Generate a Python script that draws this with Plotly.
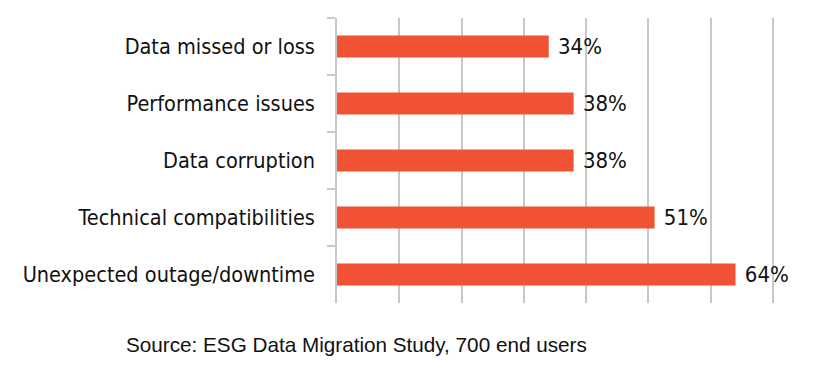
import plotly.graph_objects as go

categories = ["Data missed or loss", "Performance issues", "Data corruption",
              "Technical compatibilities", "Unexpected outage/downtime"]
values = [34, 38, 38, 51, 64]
source_text = "Source: ESG Data Migration Study, 700 end users"

BAR = "#F05233"
GRID = "#c8c8c8"
TXT = "#111111"
NARROW = "DejaVu Sans Condensed, Liberation Sans Narrow, sans-serif"

fig = go.Figure(go.Bar(
    x=values, y=categories, orientation="h",
    marker=dict(color=BAR, line=dict(width=0)),
    texttemplate=" %{x}%", textposition="outside",
    textfont=dict(family=NARROW, size=22, color=TXT),
    constraintext="none", cliponaxis=False,
    hoverinfo="skip",
))

# the page body adds an 8px offset, so the figure is 8px smaller and margins compensate
fig.update_layout(
    width=830, height=370,
    margin=dict(l=329, r=62, t=10, b=75, pad=0),
    paper_bgcolor="white", plot_bgcolor="white",
    bargap=0.614, showlegend=False,
    xaxis=dict(range=[0, 70.5], dtick=10, showgrid=True, gridcolor=GRID, gridwidth=1.5,
               showticklabels=False, zeroline=False, showline=False, ticks="",
               automargin=False),
    yaxis=dict(categoryorder="array", categoryarray=categories, autorange="reversed",
               showline=True, linecolor=GRID, linewidth=1.5,
               ticks="outside", ticklen=8, tickcolor=GRID, tickwidth=1.5,
               tickson="boundaries", showgrid=False, automargin=False,
               tickfont=dict(family=NARROW, size=21.5, color=TXT),
               ticklabelstandoff=16),
    annotations=[dict(text=source_text, xref="paper", yref="paper",
                      x=0.045, y=-0.147, xanchor="center", yanchor="middle",
                      showarrow=False,
                      font=dict(family="Liberation Sans, Arial, sans-serif", size=20.7, color=TXT))],
)

fig.write_html("out.html")
